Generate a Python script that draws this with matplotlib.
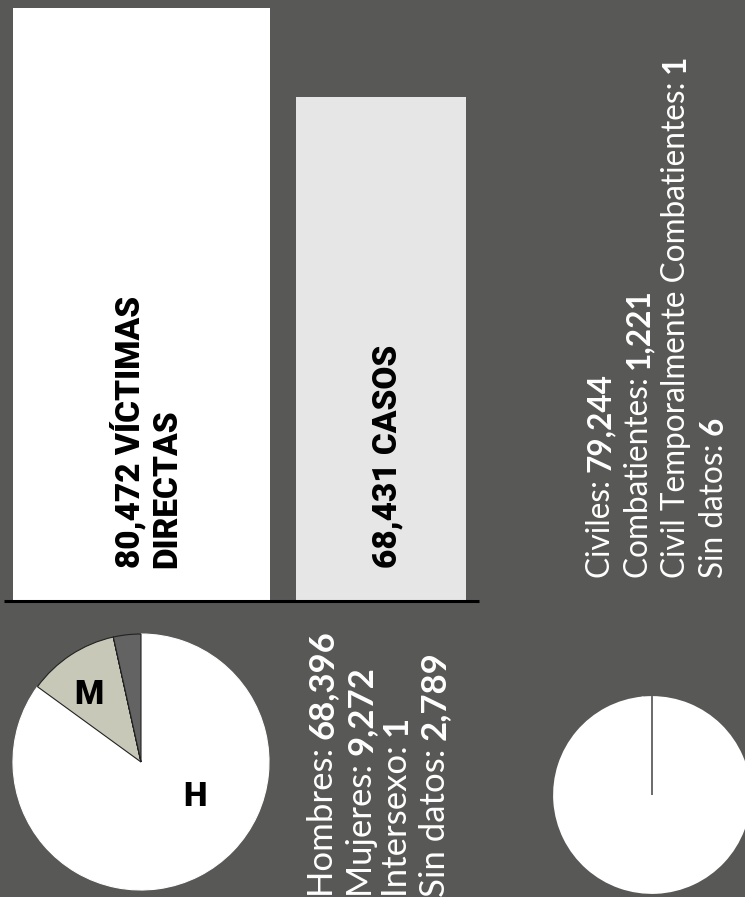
import matplotlib
matplotlib.use('Agg')
import matplotlib.pyplot as plt

# data
victimas = 80472
casos = 68431

sexo_labels = ['H', 'M', '', '']
sexo_names = ['Hombres', 'Mujeres', 'Intersexo', 'Sin datos']
sexo_vals = [68396, 9272, 1, 2789]

calidad_names = ['Civiles', 'Combatientes', 'Civil Temporalmente Combatientes', 'Sin datos']
calidad_vals = [79244, 1221, 1, 6]

BG = '#585856'
W, H = 745, 897

fig = plt.figure(figsize=(W / 100, H / 100), dpi=100)
fig.patch.set_facecolor(BG)
renderer = fig.canvas.get_renderer()

# bars (axes spans from baseline at y=601 up to the top)
ax = fig.add_axes([0, 1 - 601 / H, 1, 601 / H])
ax.set_facecolor(BG)
ax.bar([141.5, 381], [victimas, casos], width=[257, 170],
       color=['white', '#e6e6e6'], zorder=2)
ax.hlines(0, 4, 479, color='black', lw=2.2, zorder=3, clip_on=False)
ax.set_xlim(0, W)
ax.set_ylim(0, victimas * 601 / 593)
ax.axis('off')


def rot_text(x, y, parts, size, color, family):
    # x = baseline (pixels from left), y = start of text (pixels from top)
    cur = H - y
    for txt, weight in parts:
        t = fig.text(x / W, cur / H, txt, rotation=90, rotation_mode='anchor',
                     ha='left', va='baseline', fontsize=size, fontweight=weight,
                     color=color, family=family)
        cur += t.get_window_extent(renderer).height


lato = ['Lato', 'DejaVu Sans']
heavy = ['Roboto', 'DejaVu Sans']

# bar labels
rot_text(139, 568, [(f'{victimas:,} VÍCTIMAS', 'black')], 24, 'black', heavy)
rot_text(176, 568, [('DIRECTAS', 'black')], 24, 'black', heavy)
rot_text(396, 568, [(f'{casos:,} CASOS', 'black')], 24, 'black', heavy)

# pie: sexo
ax1 = fig.add_axes([13 / W, 1 - 890 / H, 256 / W, 256 / H])
wedges, _ = ax1.pie(sexo_vals, colors=['white', '#c8c8b9', '#c8c8b9', '#636363'],
                    startangle=90, counterclock=False)
for w, ec in zip(wedges, ['white', '#222222', '#222222', '#222222']):
    w.set_edgecolor(ec)
    w.set_linewidth(0.8)
ax1.set_xlim(-1, 1)
ax1.set_ylim(-1, 1)
lab_pos = [(0.42, -0.27), (-0.41, 0.52)]
for (px, py), lab in zip(lab_pos, sexo_labels):
    ax1.text(px, py, lab, ha='center', va='center', fontsize=24,
             fontweight='black', family=heavy)

# pie: calidad
ax2 = fig.add_axes([554 / W, 1 - 893 / H, 196 / W, 196 / H])
wedges2, _ = ax2.pie(calidad_vals, colors=['white'] * 4,
                     startangle=90, counterclock=False)
for w, ec in zip(wedges2, ['white', 'white', '#6e6e6e', '#6e6e6e']):
    w.set_edgecolor(ec)
    w.set_linewidth(1.3)
ax2.set_xlim(-1, 1)
ax2.set_ylim(-1, 1)

# legends as rotated text
left_x = [333, 372, 407, 445]
for x, name, v in zip(left_x, sexo_names, sexo_vals):
    rot_text(x, 897, [(f'{name}: ', 'normal'), (f'{v:,}', 'bold')], 25, 'white', lato)

right_x = [610, 648, 685, 723]
for x, name, v in zip(right_x, calidad_names, calidad_vals):
    rot_text(x, 578, [(f'{name}: ', 'normal'), (f'{v:,}', 'bold')], 22.7, 'white', lato)

fig.savefig('out.png', dpi=100, facecolor=BG)
